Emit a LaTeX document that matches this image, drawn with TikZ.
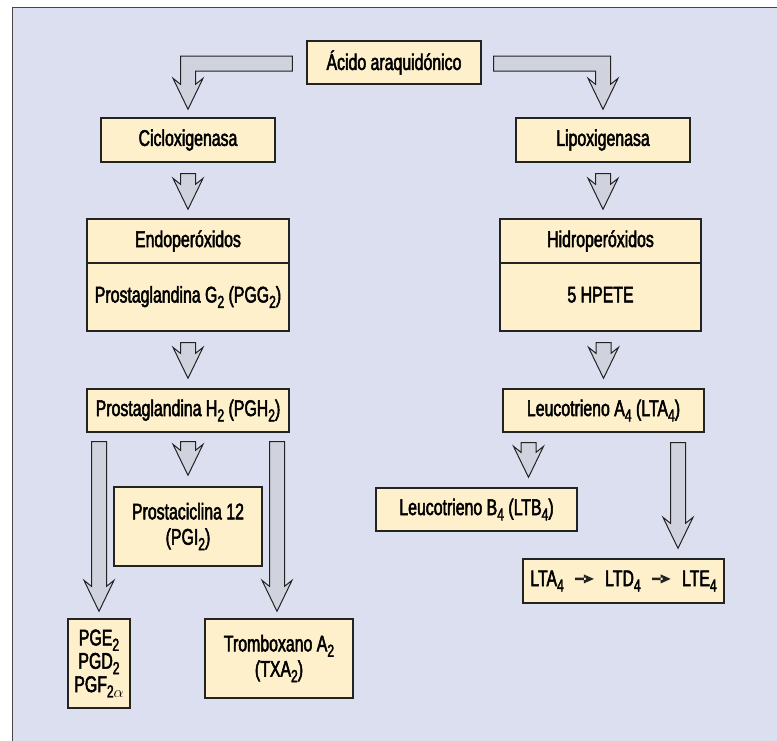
\documentclass[tikz,border=0pt]{standalone}
\usepackage{fontspec}
\setmainfont{Liberation Sans}[FakeStretch=0.7,FakeBold=2.2]
\usetikzlibrary{calc,arrows.meta}

\definecolor{panelbg}{RGB}{220,223,240}
\definecolor{boxfill}{RGB}{255,240,204}
\definecolor{arrowfill}{RGB}{208,210,222}
\definecolor{edge}{RGB}{35,35,35}

\tikzset{
  box/.style={draw=edge, fill=boxfill, line width=1pt, inner sep=0pt, align=center,
    font=\fontsize{17}{19}\selectfont},
  blockarrow/.style={draw=edge, fill=arrowfill, line width=0.75pt, line join=miter},
}

\newcommand{\low}[1]{\raisebox{-0.45ex}{\fontsize{13}{13}\selectfont #1}}
\newcommand{\thenarrow}{\enspace\tikz[baseline=-0.6ex]\fill[edge] (0,-0.9pt) rectangle (8pt,0.9pt) (6.5pt,-3.4pt) -- (14pt,0pt) -- (6.5pt,3.4pt) -- cycle;\enspace}

% straight block arrow: #1 top of shaft, #2 tip
\newcommand{\blockarrow}[2]{%
  \draw[blockarrow] ($(#1)+(-7.5,0)$) -- ($(#2)+(-7.5,-25)$) -- ($(#2)+(-15,-31)$) -- (#2)
    -- ($(#2)+(15,-31)$) -- ($(#2)+(7.5,-25)$) -- ($(#1)+(7.5,0)$) -- cycle;}
% bent block arrow: #1 end of bar, #2 tip, #3 side (-1 left, 1 right)
\newcommand{\bentarrow}[3]{%
  \draw[blockarrow] ($(#1)+(0,-7.5)$) -- ($(#2|-#1)+({(#3)*7.5},-7.5)$)
    -- ($(#2)+({(#3)*7.5},-25)$) -- ($(#2)+({(#3)*15},-31)$) -- (#2)
    -- ($(#2)+({-(#3)*15},-31)$) -- ($(#2)+({-(#3)*7.5},-25)$)
    -- ($(#2|-#1)+({-(#3)*7.5},7.5)$) -- ($(#1)+(0,7.5)$) -- cycle;}

\begin{document}
\begin{tikzpicture}[x=0.75pt,y=0.75pt,yscale=-1,xscale=1]
\useasboundingbox (0,0) rectangle (777,740);
\fill[white] (0,0) rectangle (777,740);

%Panel
\draw[draw=gray!55!black, fill=panelbg, line width=0.75pt] (12,7) rectangle (800,770);

%Boxes
\node[box, minimum width=130.5pt, minimum height=32.25pt] (acid) at (394,62.5) {Ácido araquidónico};
\node[box, minimum width=130.5pt, minimum height=33pt] (cyc) at (188,140) {Cicloxigenasa};
\node[box, minimum width=130.5pt, minimum height=33pt] (lipo) at (603,140) {Lipoxigenasa};
\node[box, minimum width=151.5pt, minimum height=33pt] (endo) at (188,241) {Endoperóxidos};
\node[box, minimum width=151.5pt, minimum height=51pt] (pgg) at (188,297) {\raisebox{3.5pt}{Prostaglandina G\low{2} (PGG\low{2})}};
\node[box, minimum width=150.75pt, minimum height=33pt] (hidro) at (600.5,241) {Hidroperóxidos};
\node[box, minimum width=150.75pt, minimum height=51pt] (hpete) at (600.5,297) {\raisebox{3.5pt}{5 HPETE}};
\node[box, minimum width=151.5pt, minimum height=32.25pt] (pgh) at (188,410.5) {Prostaglandina H\low{2} (PGH\low{2})};
\node[box, minimum width=150.75pt, minimum height=32.25pt] (lta) at (603.5,410.5) {Leucotrieno A\low{4} (LTA\low{4})};
\node[box, minimum width=111pt, minimum height=59.25pt] (pgi) at (188,526.5) {Prostaciclina 12\\(PGI\low{2})};
\node[box, minimum width=46.5pt, minimum height=66.75pt, font=\fontsize{17}{17.5}\selectfont] (pge) at (99,663.5) {PGE\low{2}\\PGD\low{2}\\PGF\low{2$\alpha$}};
\node[box, minimum width=111pt, minimum height=59.25pt] (txa) at (279,658.5) {Tromboxano A\low{2}\\(TXA\low{2})};
\node[box, minimum width=150.75pt, minimum height=32.25pt] (ltb) at (476.5,509.5) {Leucotrieno B\low{4} (LTB\low{4})};
\node[box, minimum width=150.75pt, minimum height=33pt] (lte) at (623.5,581) {LTA\low{4}\thenarrow{}LTD\low{4}\thenarrow{}LTE\low{4}};

%Arrow ends
\coordinate (lstart) at ($(acid.west)+(-14,1)$);
\coordinate (ltip) at ($(cyc.north)+(0,-8)$);
\coordinate (rstart) at ($(acid.east)+(12,1)$);
\coordinate (rtip) at ($(lipo.north)+(0,-8)$);
\coordinate (a1) at ($(cyc.south)+(0,11)$);
\coordinate (a1t) at ($(pgg.north|-endo.north)+(0,-9)$);
\coordinate (a2) at ($(lipo.south)+(0,11)$);
\coordinate (a2t) at ($(lipo.south|-hidro.north)+(0,-9)$);
\coordinate (a3) at ($(pgg.south)+(0,11)$);
\coordinate (a3t) at ($(pgh.north)+(0,-10)$);
\coordinate (a4) at ($(lta.north|-hpete.south)+(0,11)$);
\coordinate (a4t) at ($(lta.north)+(0,-10)$);
\coordinate (a5) at ($(pge.north|-pgh.south)+(0,9)$);
\coordinate (a5t) at ($(pge.north)+(0,-7)$);
\coordinate (a6) at ($(pgh.south)+(0,9)$);
\coordinate (a6t) at ($(pgi.north)+(0,-11)$);
\coordinate (a7) at ($(txa.north|-pgh.south)+(-2,9)$);
\coordinate (a7t) at ($(txa.north)+(-2,-7)$);
\coordinate (a8) at ($(lta.south)+(-75,10)$);
\coordinate (a8t) at ($(ltb.north)+(52,-10)$);
\coordinate (a9) at ($(lta.south)+(74.5,10)$);
\coordinate (a9t) at ($(lte.north)+(54.5,-10)$);

%Block arrows
\bentarrow{lstart}{ltip}{-1}
\bentarrow{rstart}{rtip}{1}
\blockarrow{a1}{a1t}
\blockarrow{a2}{a2t}
\blockarrow{a3}{a3t}
\blockarrow{a4}{a4t}
\blockarrow{a5}{a5t}
\blockarrow{a6}{a6t}
\blockarrow{a7}{a7t}
\blockarrow{a8}{a8t}
\blockarrow{a9}{a9t}

\end{tikzpicture}
\end{document}
